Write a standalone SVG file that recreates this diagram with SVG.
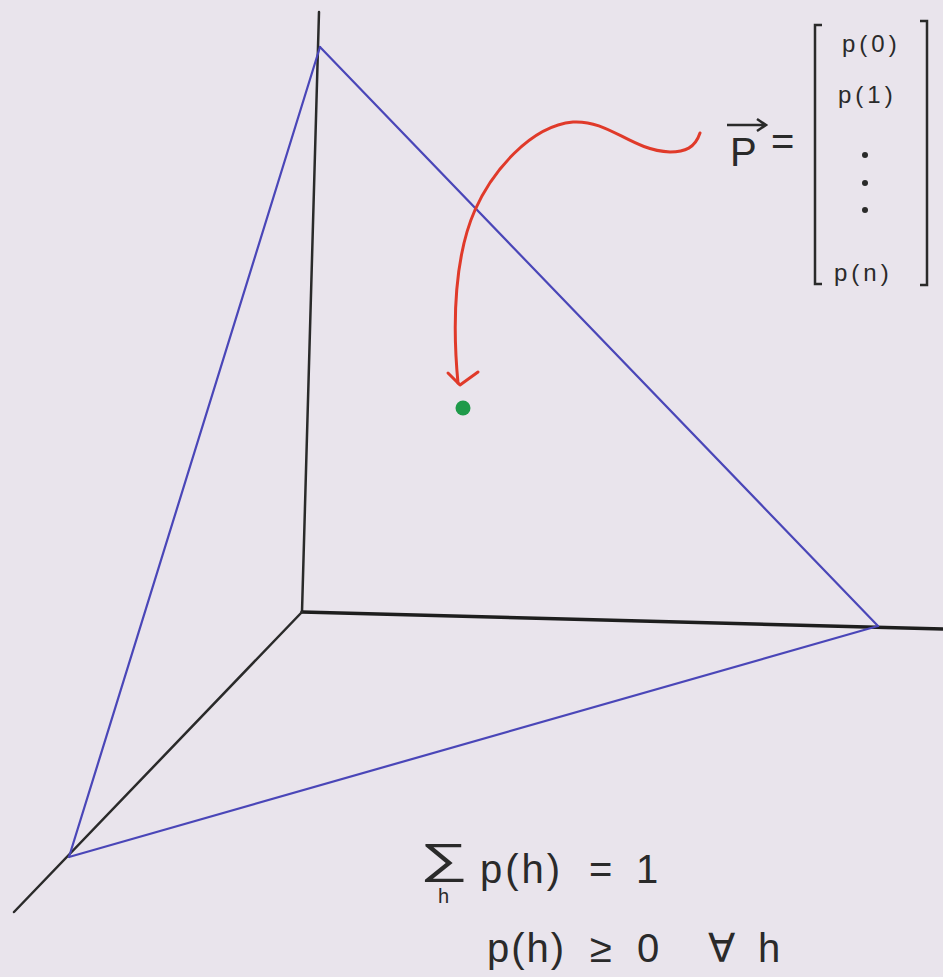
<svg xmlns="http://www.w3.org/2000/svg" width="943" height="977" viewBox="0 0 943 977">
<defs>
<style>
.axis{stroke:#2a2a2a;stroke-width:2.5;fill:none;stroke-linecap:round}
.edge{stroke:#4a46b8;stroke-width:2.2;fill:none;stroke-linecap:round}
.red{stroke:#e03a2a;stroke-width:3;fill:none;stroke-linecap:round;stroke-linejoin:round}
.t{font-family:"Liberation Sans","DejaVu Sans",sans-serif;fill:#2a2a2a}
.m{font-size:24px;letter-spacing:4px}
.b{font-size:40px}
</style>
</defs>
<rect width="943" height="977" fill="#e9e4ec"/>
<g id="connectors">
<path class="axis" d="M319 12 L302 612" stroke="#444"/>
<path class="axis" d="M302 612 L943 629" style="stroke-width:3.5;stroke:#1e1e1e"/>
<path class="axis" d="M302 612 L14 912"/>
<path class="edge" d="M320 47 L69 857"/>
<path class="edge" d="M320 47 L878 626"/>
<path class="edge" d="M69 857 L878 626"/>
<path class="red" d="M700 133 C695 148 685 152 670 152 C630 150 610 120 573 122 C530 126 492 172 475 210 C455 255 452 320 458 383"/>
<path class="red" d="M448 373 L460 385 L478 372"/>
</g>
<g id="point"><circle cx="463" cy="408" r="7.5" fill="#1f9a4a"/></g>
<g id="vector">
<text class="t" x="730" y="166" font-size="40">P</text>
<path d="M727 125 L765 125 M757 119 L766 125 L757 131" stroke="#2a2a2a" stroke-width="2.5" fill="none"/>
<text class="t" x="771" y="155" font-size="40">=</text>
<path d="M822 25 L815 25 L815 284 L822 284" stroke="#2a2a2a" stroke-width="2.5" fill="none"/>
<path d="M920 21 L927 21 L927 285 L920 285" stroke="#2a2a2a" stroke-width="2.5" fill="none"/>
<text class="t m" x="842" y="52">p(0)</text>
<text class="t m" x="838" y="103">p(1)</text>
<circle cx="865" cy="155" r="3" fill="#2a2a2a"/>
<circle cx="865" cy="183" r="3" fill="#2a2a2a"/>
<circle cx="865" cy="210" r="3" fill="#2a2a2a"/>
<text class="t m" x="834" y="281">p(n)</text>
</g>
<g id="constraints">
<text class="t" transform="translate(420,873) scale(1.6,1)" font-size="42">∑</text>
<text class="t" x="438" y="903" font-size="20">h</text>
<text class="t b" x="480" y="883" letter-spacing="3">p(h)</text>
<text class="t b" x="589" y="883">=</text>
<text class="t b" x="636" y="883">1</text>
<text class="t b" x="487" y="962" letter-spacing="2">p(h)</text>
<text class="t b" x="590" y="962">≥</text>
<text class="t b" x="637" y="962">0</text>
<text class="t b" x="708" y="962">∀</text>
<text class="t b" x="758" y="962">h</text>
</g>
</svg>
